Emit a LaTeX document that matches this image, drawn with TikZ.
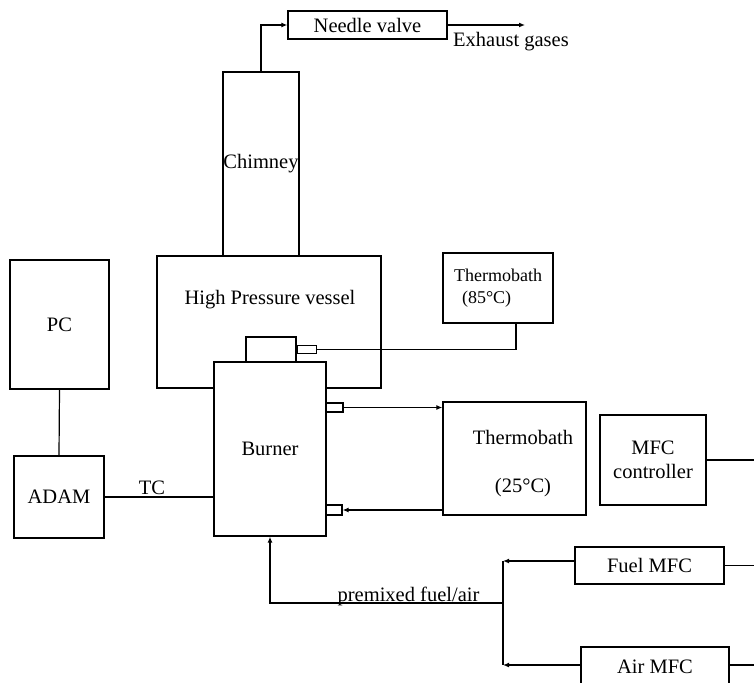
\documentclass[tikz,border=0pt]{standalone}
\usepackage{fontspec}
\setmainfont{Liberation Serif}
\usetikzlibrary{arrows.meta, positioning, calc}
\tikzset{
  block/.style={draw, line width=1.3pt, fill=white, inner sep=0pt, align=center},
  port/.style={draw, line width=1.2pt, fill=white, inner sep=0pt},
  arrow/.style={-{Latex[length=6pt, width=5pt]}, line width=1.2pt},
  link/.style={line width=1.2pt},
  note/.style={align=center, inner sep=1pt},
  every node/.style={font=\fontsize{20.5}{24}\selectfont}
}

\begin{document}
\begin{tikzpicture}[x=1pt, y=-1pt]
    \clip (0,0) rectangle (754,682);

    % vessel, chimney and exhaust line
    \node[block, minimum width=159pt, minimum height=28pt] (needle) at (367.5,25) {Needle valve};
    \node[block, minimum width=76pt, minimum height=184pt] (chimney) at (261,164) {Chimney};
    \node[block, minimum width=224pt, minimum height=132pt] (vessel) at (269,322) {};
    \node[note] (vesseltext) at (270,300) {High Pressure vessel};
    \node[block, minimum width=112pt, minimum height=174pt] (burner) at (270,449) {Burner};
    \node[port, minimum width=50pt, minimum height=25pt] (topcap) at (271,349.5) {};
    \node[port, minimum width=19pt, minimum height=8pt, right=0pt of topcap] (topnoz) {};
    \node[port, minimum width=17pt, minimum height=9pt] (outport) at (334.5,407.5) {};
    \node[port, minimum width=16pt, minimum height=10pt] (inport) at (334,510) {};
    \coordinate (exhaust) at (525,25);
    \node[note] (exhausttext) at (511,42) {Exhaust gases};

    % thermobaths
    \node[block, minimum width=110pt, minimum height=70pt, align=left,
          font=\fontsize{18}{21.6}\selectfont] (tb85) at (498,288) {Thermobath\\\hspace*{8pt}(85°C)};
    \node[block, minimum width=143pt, minimum height=113pt] (tb25) at (514.5,458.5) {};
    \node[note] (tb25text) at (523,464) {Thermobath\\[24pt](25°C)};

    % flow control
    \node[block, minimum width=106pt, minimum height=90pt] (mfcctrl) at (653,460) {MFC\\controller};
    \node[block, minimum width=149pt, minimum height=37pt] (fuel) at (649.5,565.5) {Fuel MFC};
    \node[block, minimum width=148pt, minimum height=40pt] (air) at (655,667) {Air MFC};
    \coordinate (jtop) at (503,561);
    \coordinate (jmid) at (503,603);
    \coordinate (jbot) at (503,665);
    \coordinate (edgea) at (760,460);
    \coordinate (edgeb) at (760,565.5);
    \coordinate (edgec) at (760,665);
    \node[note, anchor=base] (mixtext) at (408.5,601) {premixed fuel/air};

    % data acquisition
    \node[block, minimum width=99pt, minimum height=129pt] (pc) at (59.5,324.5) {PC};
    \node[block, minimum width=90pt, minimum height=82pt] (adam) at (59,497) {ADAM};
    \node[note, anchor=base] (tclabel) at (152,494) {TC};

    \draw[arrow] (chimney.north) |- (needle.west);
    \draw[arrow] (needle.east) -- (exhaust);
    \draw[link] (topnoz.east) -| ([xshift=18pt]tb85.south);
    \draw[arrow] (outport.east) -- (outport.east -| tb25.west);
    \draw[arrow] (inport.east -| tb25.west) -- (inport.east);
    \draw[link] (mfcctrl.east) -- (edgea);
    \draw[link] (fuel.east) -- (edgeb);
    \draw[link] ([yshift=2pt]air.east) -- (edgec);
    \draw[arrow] ([yshift=4.5pt]fuel.west) -- (jtop);
    \draw[arrow] ([yshift=2pt]air.west) -- (jbot);
    \draw[link] (jtop) -- (jbot);
    \draw[arrow] (jmid) -| (burner.south);
    \draw[link] (pc.south) -- (adam.north);
    \draw[link] (adam.east) -- (adam.east -| burner.west);
\end{tikzpicture}
\end{document}
